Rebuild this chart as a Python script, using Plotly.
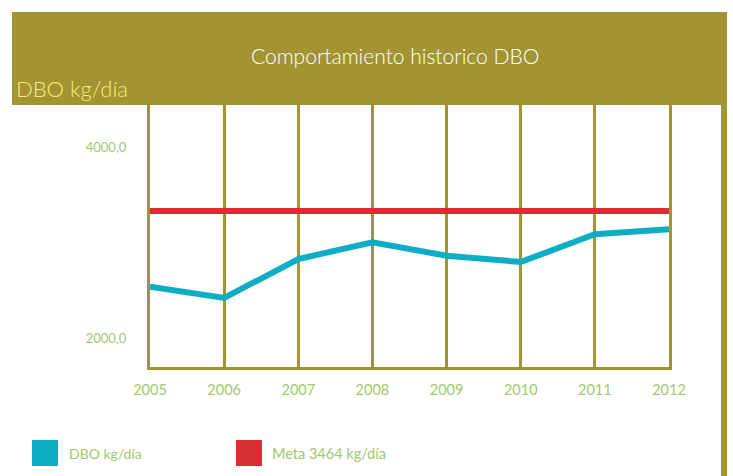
import plotly.graph_objects as go

years = [2005, 2006, 2007, 2008, 2009, 2010, 2011, 2012]
dbo = [2671, 2553, 2961, 3136, 2996, 2930, 3220, 3272]
meta = [3464, 3464, 3464, 3464, 3464, 3464, 3464, 3464]
ytick_vals = [2000, 4000]
ytick_text = ["2000,0", "4000,0"]
title_text = "Comportamiento historico DBO"
unit_text = "DBO kg/día"
legend_names = ["DBO kg/día", "Meta 3464 kg/día"]

OLIVE = "#A39433"
BLUE = "#0EADC6"
RED = "#D82F32"
GREEN = "#A2C86E"
YELLOW = "#F5EA7A"
FONT = "Lato"

W, H = 733, 476
L, R, T, B = 150, 669, 105, 367


def px(x):
    return (x - L) / (R - L)


def py(y):
    return (B - y) / (B - T)


fig = go.Figure()
fig.add_trace(go.Scatter(x=years, y=dbo, mode="lines", name=legend_names[0],
                         line=dict(color=BLUE, width=6), showlegend=False))
fig.add_trace(go.Scatter(x=years, y=meta, mode="lines", name=legend_names[1],
                         line=dict(color=RED, width=6), showlegend=False))

shapes = [
    # header band
    dict(type="rect", xref="paper", yref="paper", x0=px(12), x1=px(727), y0=py(105), y1=py(12),
         fillcolor=OLIVE, line=dict(width=0), layer="above"),
    # right vertical bar
    dict(type="rect", xref="paper", yref="paper", x0=px(721), x1=px(727), y0=py(476), y1=py(104),
         fillcolor=OLIVE, line=dict(width=0), layer="above"),
    # legend squares
    dict(type="rect", xref="paper", yref="paper", x0=px(32), x1=px(58), y0=py(466), y1=py(440),
         fillcolor=BLUE, line=dict(width=0)),
    dict(type="rect", xref="paper", yref="paper", x0=px(236), x1=px(262), y0=py(466), y1=py(440),
         fillcolor=RED, line=dict(width=0)),
]

annotations = [
    dict(text=title_text, xref="paper", yref="paper", x=px(395), y=py(55), showarrow=False,
         xanchor="center", yanchor="middle", font=dict(family=FONT, size=21, color="white", weight=300)),
    dict(text=unit_text, xref="paper", yref="paper", x=px(14), y=py(89), showarrow=False,
         xanchor="left", yanchor="middle", font=dict(family=FONT, size=22, color=YELLOW, weight=300)),
    dict(text=legend_names[0], xref="paper", yref="paper", x=px(67), y=py(453), showarrow=False,
         xanchor="left", yanchor="middle", font=dict(family=FONT, size=14, color=GREEN)),
    dict(text=legend_names[1], xref="paper", yref="paper", x=px(270), y=py(453), showarrow=False,
         xanchor="left", yanchor="middle", font=dict(family=FONT, size=14.5, color=GREEN)),
]

fig.update_layout(
    width=W, height=H,
    margin=dict(l=L, r=W - R, t=T, b=H - B, pad=0),
    paper_bgcolor="white", plot_bgcolor="white",
    shapes=shapes, annotations=annotations,
    showlegend=False,
    font=dict(family=FONT, color=GREEN),
)
fig.update_xaxes(range=[2005, 2012], tickvals=years, ticktext=[str(y) for y in years],
                 showgrid=True, gridcolor=OLIVE, gridwidth=3,
                 showline=True, linecolor=OLIVE, linewidth=3, mirror=True,
                 zeroline=False, ticks="", ticklabelstandoff=8,
                 tickfont=dict(family=FONT, size=14.5, color=GREEN))
fig.update_yaxes(range=[1830, 4574], tickvals=ytick_vals, ticktext=ytick_text,
                 showgrid=False, showline=True, linecolor=OLIVE, linewidth=3, mirror=True,
                 zeroline=False, ticks="", ticklabelstandoff=18, ticklabelshift=-12,
                 tickfont=dict(family=FONT, size=13, color=GREEN))

fig.write_html("out.html", config={"displayModeBar": False},
               post_script="document.body.style.margin='0';document.body.style.overflow='hidden';")
